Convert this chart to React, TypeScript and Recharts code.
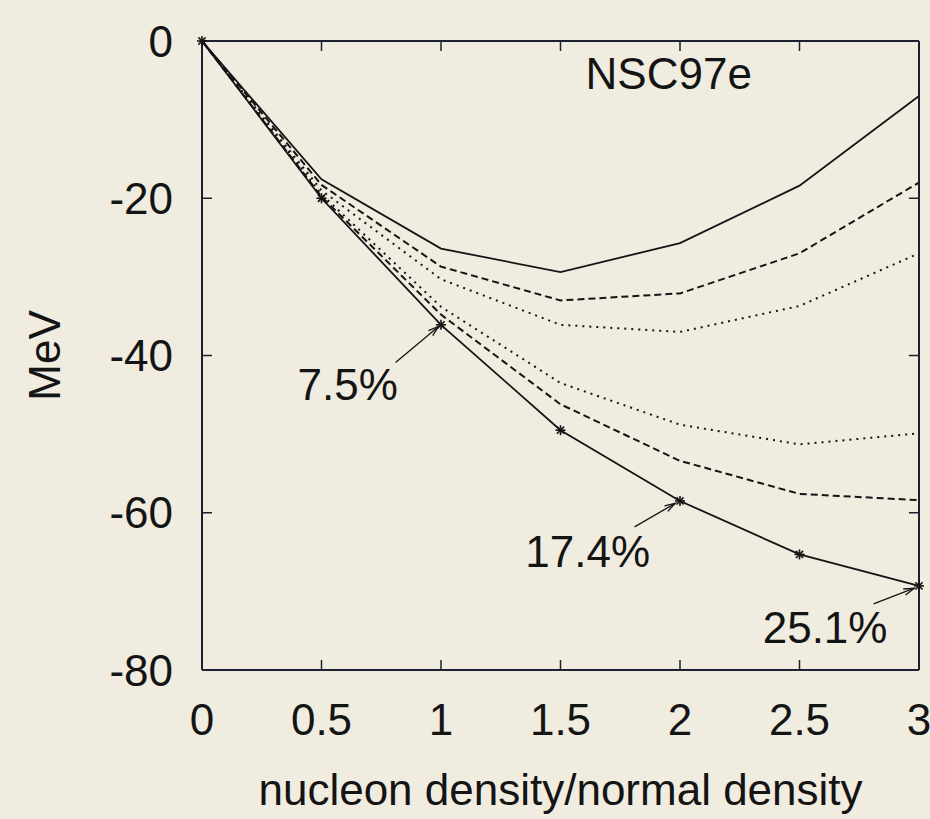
import { LineChart, Line, XAxis, YAxis, ReferenceLine, ReferenceDot, Label } from "recharts"

const densities = [0, 0.5, 1, 1.5, 2, 2.5, 3]
const solidTop = [0, -17.6, -26.4, -29.4, -25.7, -18.4, -7]
const dashedTop = [0, -18.3, -28.7, -33, -32.1, -27, -18]
const dottedTop = [0, -19, -30.3, -36.1, -37, -33.7, -27]
const dottedLow = [0, -19.5, -33.8, -43.5, -48.8, -51.3, -49.9]
const dashedLow = [0, -19.8, -34.8, -46.2, -53.4, -57.6, -58.4]
const solidLow = [0, -20, -36.1, -49.5, -58.5, -65.3, -69.3]

const xTicks = [0, 0.5, 1, 1.5, 2, 2.5, 3]
const yTicks = [0, -20, -40, -60, -80]

// label text anchor (data coords) and arrow start/end
const notes = [
  { text: "7.5%", x: 0.4, y: -45.6, ax: 0.81, ay: -40.9, bx: 0.99, by: -36.3 },
  { text: "17.4%", x: 1.353, y: -66.9, ax: 1.81, ay: -61.8, bx: 1.98, by: -58.8 },
  { text: "25.1%", x: 2.346, y: -76.6, ax: 2.81, ay: -71.6, bx: 2.98, by: -69.6 },
]
const modelName = { text: "NSC97e", x: 1.605, y: -6.1 }

const data = densities.map((d, i) => ({
  d,
  solidTop: solidTop[i],
  dashedTop: dashedTop[i],
  dottedTop: dottedTop[i],
  dottedLow: dottedLow[i],
  dashedLow: dashedLow[i],
  solidLow: solidLow[i],
}))

const xMin = 0
const xMax = 3
const yMin = -80
const yMax = 0
// inward tick length (~10px) in data units
const tickDx = 0.042
const tickDy = 1.27

const ink = "#141414"
const axisInk = "#1c2030"
const font = "'Liberation Sans', Arial, sans-serif"

// inward tick marks on all four sides of the frame
const innerX = xTicks.filter((t) => t > xMin && t < xMax)
const innerY = yTicks.filter((t) => t > yMin && t < yMax)
const frameTicks = [
  ...innerX.map((t) => [{ x: t, y: yMin }, { x: t, y: yMin + tickDy }]),
  ...innerX.map((t) => [{ x: t, y: yMax }, { x: t, y: yMax - tickDy }]),
  ...innerY.map((t) => [{ x: xMin, y: t }, { x: xMin + tickDx, y: t }]),
  ...innerY.map((t) => [{ x: xMax, y: t }, { x: xMax - tickDx, y: t }]),
]

function Star(props: any) {
  const { cx, cy } = props
  if (cx == null || cy == null) return null
  const r = 5
  const q = 3.6
  return (
    <g stroke={ink} strokeWidth={1.6}>
      <line x1={cx - r} y1={cy} x2={cx + r} y2={cy} />
      <line x1={cx} y1={cy - r} x2={cx} y2={cy + r} />
      <line x1={cx - q} y1={cy - q} x2={cx + q} y2={cy + q} />
      <line x1={cx - q} y1={cy + q} x2={cx + q} y2={cy - q} />
    </g>
  )
}

function Arrow(props: any) {
  const { x1, y1, x2, y2 } = props
  const ang = Math.atan2(y2 - y1, x2 - x1)
  const len = 11
  const w = 0.3
  const p1 = [x2 - len * Math.cos(ang - w), y2 - len * Math.sin(ang - w)]
  const p2 = [x2 - len * Math.cos(ang + w), y2 - len * Math.sin(ang + w)]
  return (
    <g>
      <line x1={x1} y1={y1} x2={x2} y2={y2} stroke={ink} strokeWidth={1.3} />
      <path d={`M${p1[0]},${p1[1]} L${x2},${y2} L${p2[0]},${p2[1]}`} fill="none" stroke={ink} strokeWidth={1.3} />
    </g>
  )
}

const noteText = (text: string) => (props: any) => (
  <text x={props.cx} y={props.cy} fill={ink} fontSize={44} fontFamily={font} textAnchor="start">
    {text}
  </text>
)

export default function App() {
  return (
    <div style={{ position: "absolute", left: 0, top: 0, width: 930, height: 819, background: "#f0ece0" }}>
      <LineChart width={930} height={819} data={data} margin={{ top: 41, right: 11, left: 0, bottom: 0 }}>
        <XAxis
          dataKey="d"
          type="number"
          domain={[xMin, xMax]}
          ticks={xTicks}
          interval={0}
          height={149}
          tickSize={0}
          tickLine={false}
          tickMargin={34}
          stroke={axisInk}
          strokeWidth={2}
          tick={{ fill: ink, fontSize: 44, fontFamily: font }}
        >
          <Label
            value="nucleon density/normal density"
            position="insideBottom"
            offset={14}
            fill={ink}
            fontSize={44}
            fontFamily={font}
          />
        </XAxis>
        <XAxis
          xAxisId="top"
          orientation="top"
          type="number"
          domain={[xMin, xMax]}
          height={1}
          mirror
          tickLine={false}
          tick={false}
          stroke={axisInk}
          strokeWidth={2}
        />
        <YAxis
          type="number"
          domain={[yMin, yMax]}
          ticks={yTicks}
          interval={0}
          width={202}
          tickSize={0}
          tickLine={false}
          tickMargin={29}
          stroke={axisInk}
          strokeWidth={2}
          tick={{ fill: ink, fontSize: 44, fontFamily: font }}
        >
          <Label
            content={(p: any) => {
              const vb = p.viewBox
              const cx = vb.x + 44
              const cy = vb.y + vb.height / 2
              return (
                <text
                  x={cx}
                  y={cy}
                  transform={`rotate(-90 ${cx} ${cy})`}
                  textAnchor="middle"
                  dominantBaseline="central"
                  fill={ink}
                  fontSize={44}
                  fontFamily={font}
                >
                  MeV
                </text>
              )
            }}
          />
        </YAxis>
        <YAxis
          yAxisId="right"
          orientation="right"
          type="number"
          domain={[yMin, yMax]}
          width={1}
          mirror
          tickLine={false}
          tick={false}
          stroke={axisInk}
          strokeWidth={2}
        />

        {frameTicks.map((seg, i) => (
          <ReferenceLine key={"tk" + i} segment={seg} stroke={axisInk} strokeWidth={1.5} />
        ))}

        <Line dataKey="solidTop" stroke={ink} strokeWidth={1.8} dot={false} isAnimationActive={false} />
        <Line dataKey="dashedTop" stroke={ink} strokeWidth={2} strokeDasharray="7 4" dot={false} isAnimationActive={false} />
        <Line dataKey="dottedTop" stroke={ink} strokeWidth={2} strokeDasharray="2 5" dot={false} isAnimationActive={false} />
        <Line dataKey="dottedLow" stroke={ink} strokeWidth={2} strokeDasharray="2 5" dot={false} isAnimationActive={false} />
        <Line dataKey="dashedLow" stroke={ink} strokeWidth={2} strokeDasharray="7 4" dot={false} isAnimationActive={false} />
        <Line dataKey="solidLow" stroke={ink} strokeWidth={1.8} dot={<Star />} isAnimationActive={false} />

        {notes.map((n) => (
          <ReferenceLine
            key={"a" + n.text}
            segment={[
              { x: n.ax, y: n.ay },
              { x: n.bx, y: n.by },
            ]}
            shape={Arrow}
          />
        ))}
        {notes.map((n) => (
          <ReferenceDot key={"t" + n.text} x={n.x} y={n.y} r={0} shape={noteText(n.text)} />
        ))}
        <ReferenceDot x={modelName.x} y={modelName.y} r={0} shape={noteText(modelName.text)} />
      </LineChart>
    </div>
  )
}
